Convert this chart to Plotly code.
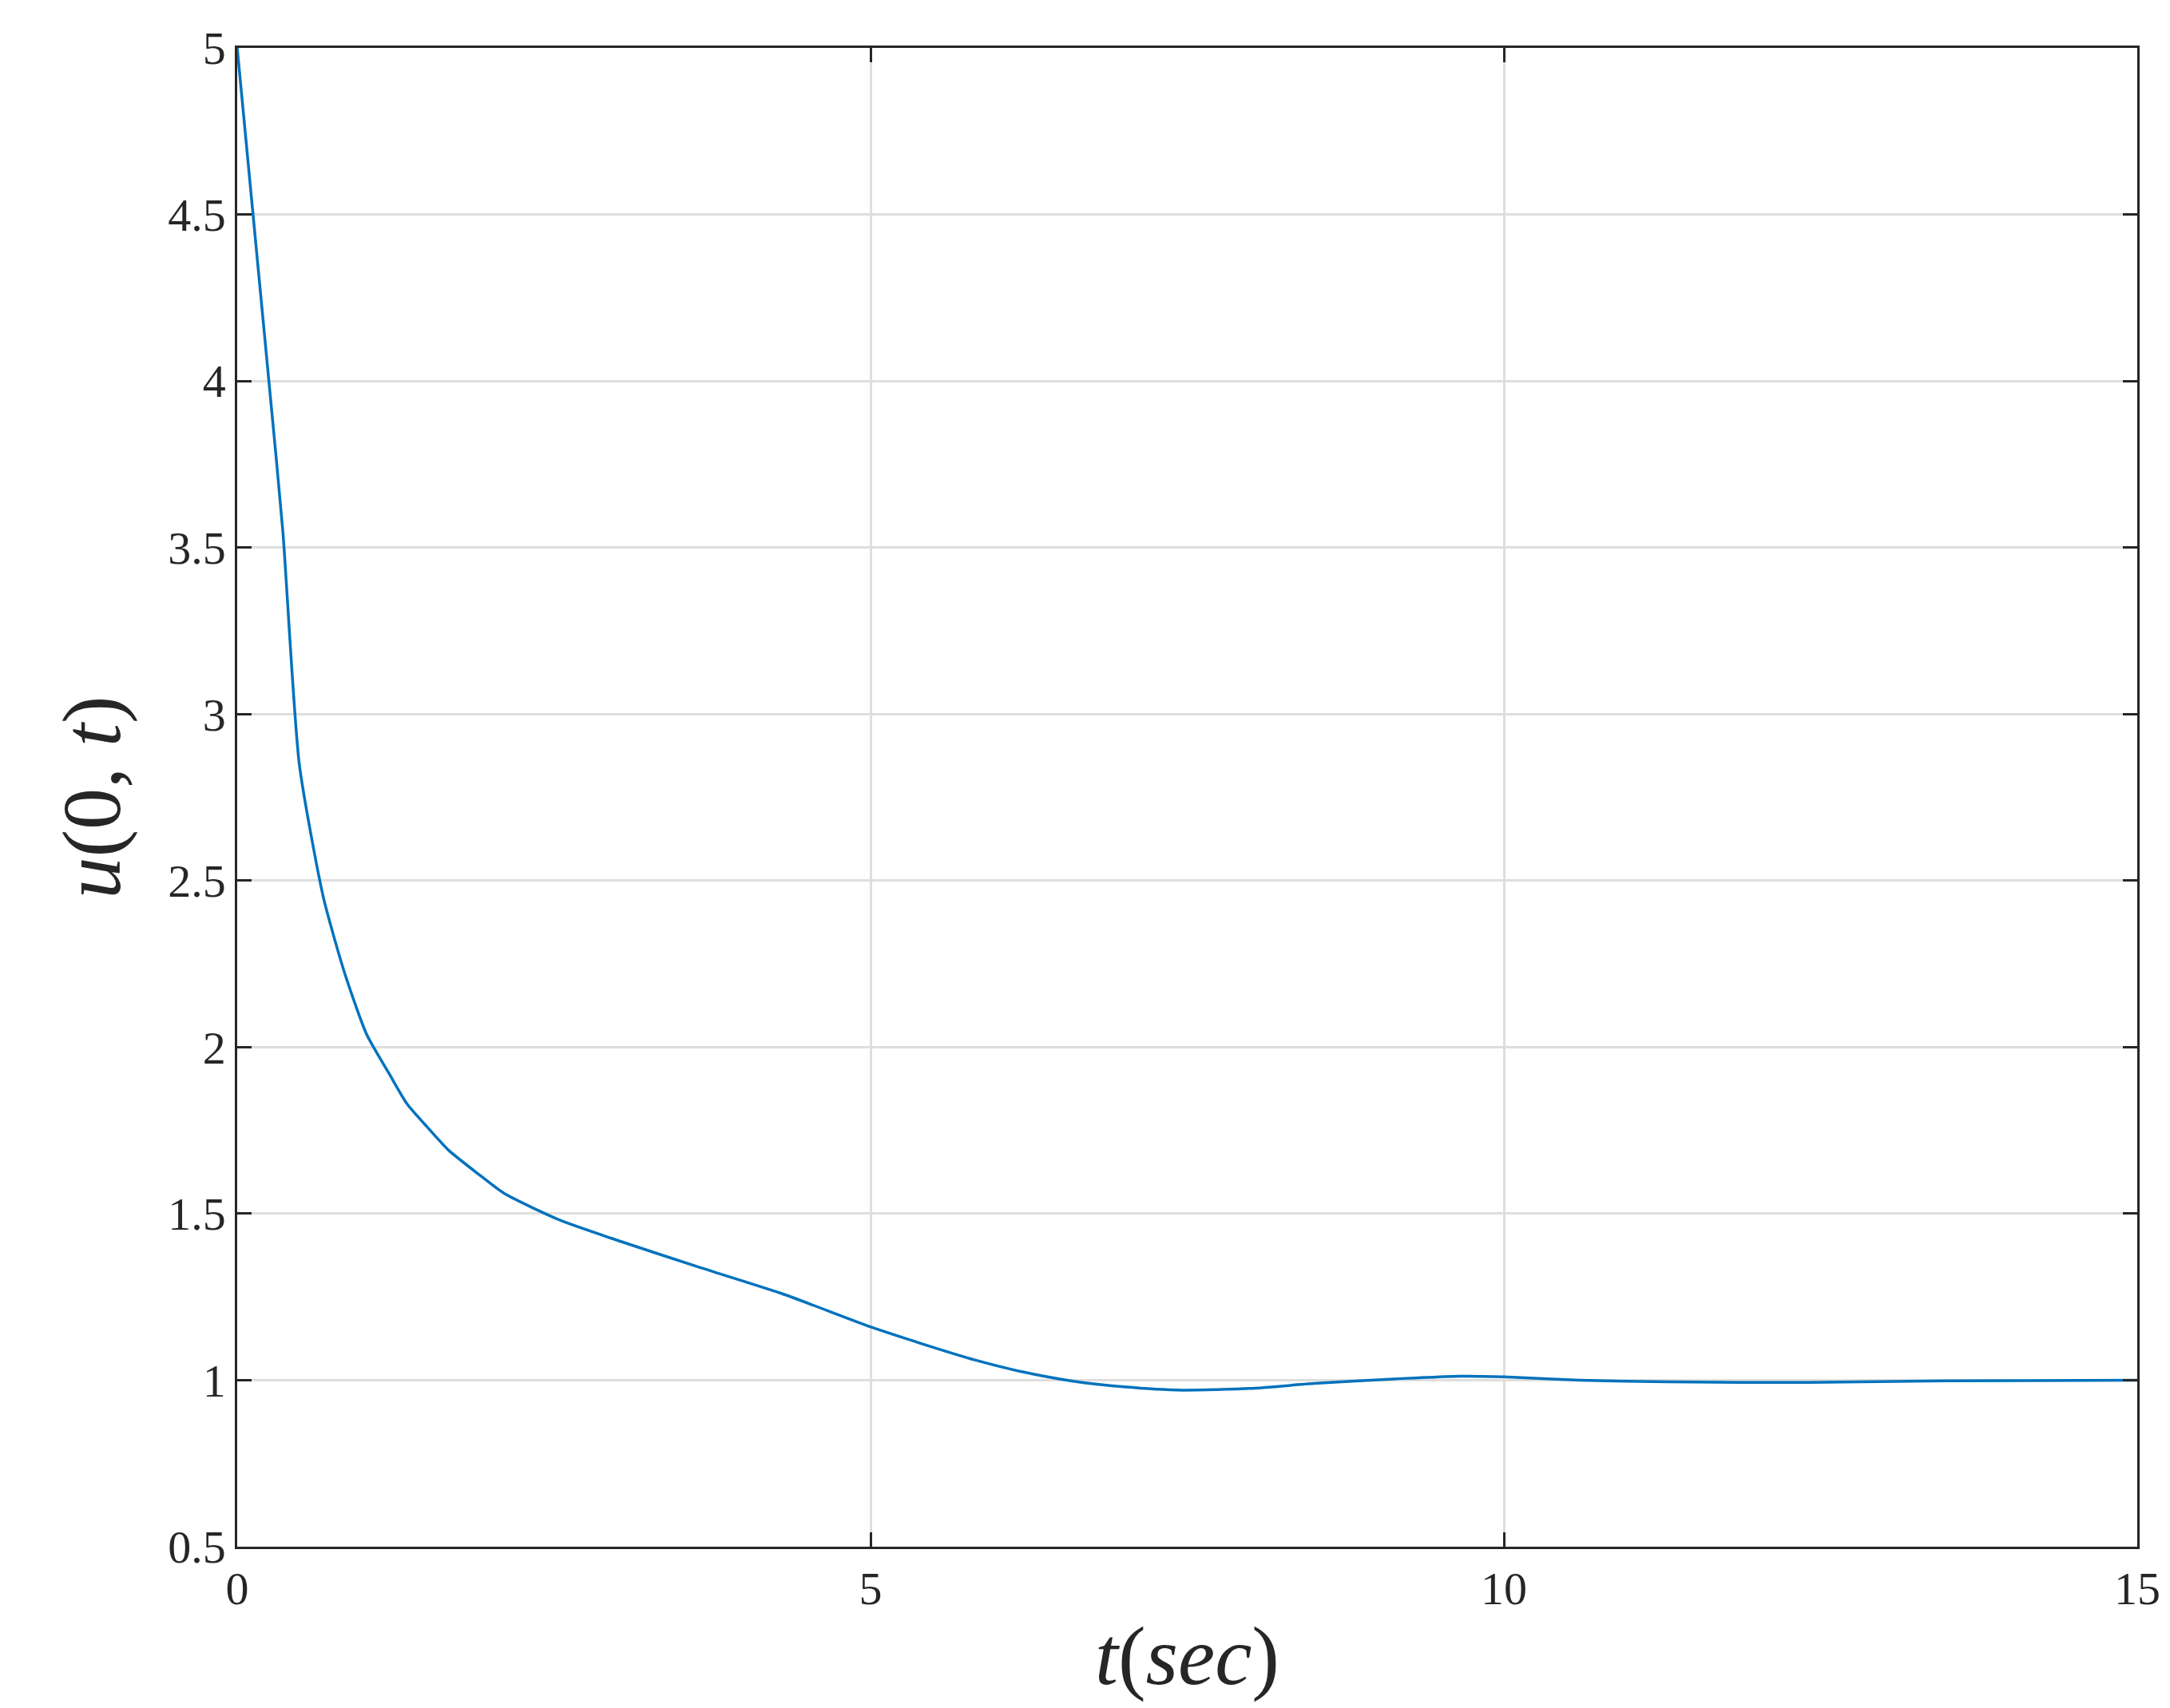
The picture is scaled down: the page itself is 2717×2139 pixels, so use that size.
import plotly.graph_objects as go

t = [0, 0.12, 0.25, 0.36, 0.49, 0.68, 0.85, 1.02, 1.2, 1.34, 1.5, 1.67, 1.9, 2.11, 2.55, 3.0, 3.64, 4.3, 5.0, 5.4, 5.83, 6.2, 6.6, 7.0, 7.46, 8.0, 8.5, 9.1, 9.65, 10.0, 10.6, 11.3, 12.4, 13.5, 15.0]
u = [5.0, 4.52, 4.0, 3.55, 2.85, 2.45, 2.22, 2.04, 1.92, 1.83, 1.76, 1.69, 1.62, 1.56, 1.48, 1.42, 1.34, 1.26, 1.16, 1.11, 1.06, 1.025, 0.997, 0.98, 0.97, 0.975, 0.99, 1.003, 1.012, 1.01, 1.0, 0.995, 0.993, 0.998, 1.0]

fig = go.Figure(go.Scatter(x=t, y=u, mode="lines", line=dict(color="#0072BD", width=3.5, shape="spline", smoothing=0.6)))
font = "Liberation Serif, DejaVu Serif, serif"
ax = dict(showgrid=True, gridcolor="#DEDEDE", gridwidth=2.5, zeroline=False, showline=True,
          linecolor="#262626", linewidth=2.5, mirror="ticks", ticks="inside", ticklen=18,
          tickwidth=2.5, tickcolor="#262626", tickfont=dict(family=font, size=58, color="#262626"))
fig.update_layout(
    width=2717, height=2139, plot_bgcolor="white", paper_bgcolor="white", showlegend=False,
    margin=dict(l=289, r=49, t=52, b=210),
    xaxis=dict(range=[0, 15], tickvals=[0, 5, 10, 15], **ax,
               title=dict(text="<i>t</i>(<i>sec</i>)", font=dict(family=font, size=104, color="#262626"), standoff=15)),
    yaxis=dict(range=[0.5, 5], tickvals=[0.5, 1, 1.5, 2, 2.5, 3, 3.5, 4, 4.5, 5],
               ticktext=["0.5", "1", "1.5", "2", "2.5", "3", "3.5", "4", "4.5", "5"], **ax,
               title=dict(text="<i>u</i>(0, <i>t</i>)", font=dict(family=font, size=104, color="#262626"), standoff=25)),
)
fig.write_html("out.html")
